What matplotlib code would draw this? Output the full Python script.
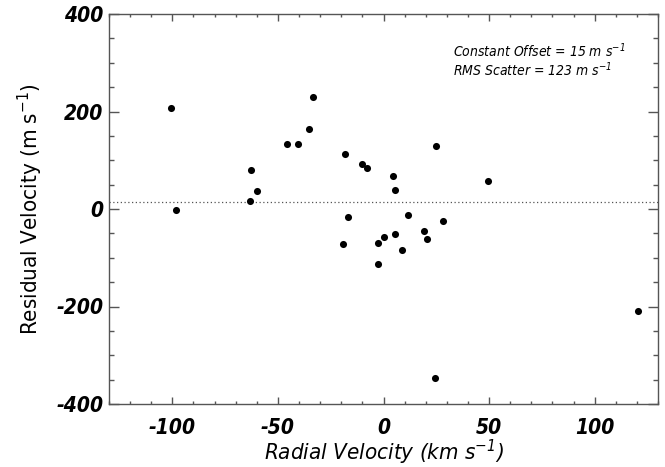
import matplotlib
matplotlib.use("Agg")
import matplotlib.pyplot as plt
from matplotlib.ticker import MultipleLocator
from matplotlib import font_manager

cond = [f for f in font_manager.fontManager.ttflist
        if f.name == 'DejaVu Sans' and str(f.stretch) in ('condensed', '500', 'semi-condensed')]
if cond:
    FAM = ['DejaVu Sans']
    STRETCH = 'condensed'
    TICK_FS, LAB_FS, ANN_FS = 15, 16, 10
else:
    FAM = ['Liberation Sans', 'DejaVu Sans']
    STRETCH = 'normal'
    TICK_FS, LAB_FS, ANN_FS = 15, 16, 10.5

plt.rcParams['axes.unicode_minus'] = False
plt.rcParams['mathtext.fontset'] = 'custom'
plt.rcParams['mathtext.rm'] = FAM[0]
plt.rcParams['mathtext.it'] = FAM[0] + ':italic'
plt.rcParams['mathtext.bf'] = FAM[0] + ':bold'
plt.rcParams['mathtext.default'] = 'regular'

radial_velocity = [-100.6, -33.3, -35.5, -45.5, -40.3, -18.1, -10.2, -7.8, 24.7, 4.5,
                   5.4, 49.5, -62.6, -59.7, -63.4,
                   -98.5, -16.7, -19.3, -2.5, 0.2, -2.7, 5.6, 8.6, 11.7, 19.1,
                   20.6, 28.1, 24.5, 120.5]
residual_velocity = [207, 230, 164, 133, 133, 113, 92, 85, 130, 68,
                     40, 57, 80, 37, 17,
                     -2, -16, -72, -70, -57, -112, -51, -84, -13, -45,
                     -62, -24, -347, -210]
constant_offset = 15
rms_scatter = 123
x_ticks = [-100, -50, 0, 50, 100]
y_ticks = [-400, -200, 0, 200, 400]

W, H = 665, 467
fig = plt.figure(figsize=(W / 100, H / 100), dpi=100)
ax = fig.add_axes([109/W, 1-404/H, (658-109)/W, (404-14)/H])

ax.scatter(radial_velocity, residual_velocity, s=26, color='black', zorder=3, linewidths=0)
ax.axhline(constant_offset, color='#555555', linestyle=(0, (1, 2)), linewidth=0.9)

ax.set_xlim(-130, 130)
ax.set_ylim(-400, 400)
ax.set_xticks(x_ticks)
ax.set_yticks(y_ticks)
ax.set_xticklabels([str(v) for v in x_ticks])
ax.set_yticklabels([str(v) for v in y_ticks])
ax.xaxis.set_minor_locator(MultipleLocator(10))
ax.yaxis.set_minor_locator(MultipleLocator(50))

for s in ax.spines.values():
    s.set_color('#555555')
    s.set_linewidth(1.0)
ax.tick_params(axis='both', which='both', direction='in', top=True, right=True, color='#555555', width=1.0)
ax.tick_params(axis='x', which='major', length=5, pad=10)
ax.tick_params(axis='x', which='minor', length=2.5)
ax.tick_params(axis='y', which='major', length=7.2, pad=4)
ax.tick_params(axis='y', which='minor', length=3.6)

for lab in ax.get_xticklabels() + ax.get_yticklabels():
    lab.set_family(FAM)
    lab.set_fontweight('bold')
    lab.set_fontstyle('italic')
    lab.set_fontstretch(STRETCH)
    lab.set_fontsize(TICK_FS)

ax.set_xlabel('Radial Velocity (km s$^{-1}$)', family=FAM, style='italic', stretch=STRETCH,
              fontsize=LAB_FS, labelpad=0)
ax.set_ylabel('Residual Velocity (m s$^{-1}$)', family=FAM, stretch=STRETCH,
              fontsize=LAB_FS, labelpad=8)

fig.text(453 / W, 1 - 51 / H, f'Constant Offset = {constant_offset} m s$^{{-1}}$',
         ha='left', va='center', family=FAM, style='italic', stretch=STRETCH, fontsize=ANN_FS)
fig.text(453 / W, 1 - 70 / H, f'RMS Scatter = {rms_scatter} m s$^{{-1}}$',
         ha='left', va='center', family=FAM, style='italic', stretch=STRETCH, fontsize=ANN_FS)

fig.savefig('out.png', dpi=100)
